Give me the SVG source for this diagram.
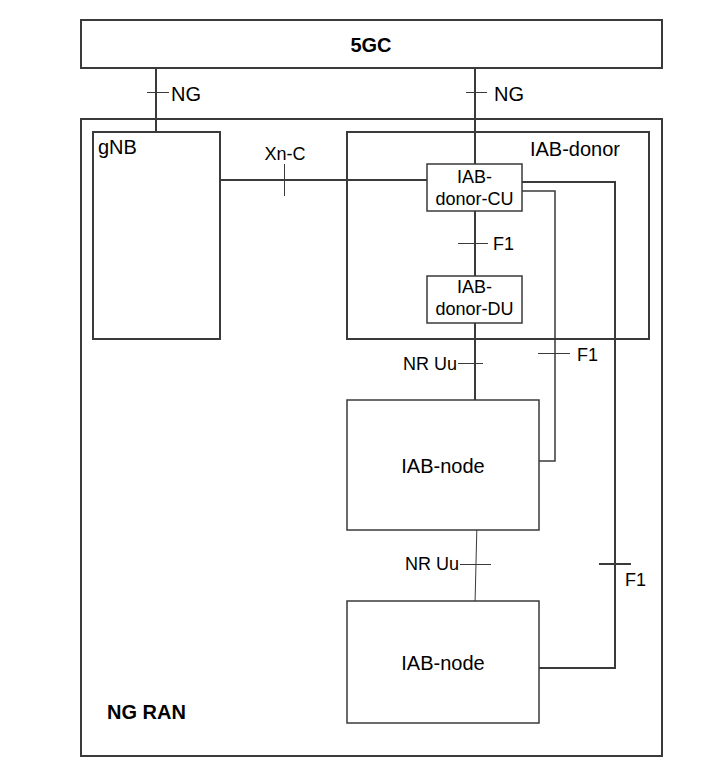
<svg xmlns="http://www.w3.org/2000/svg" width="717" height="778" viewBox="0 0 717 778">
<style>
.box{fill:#fff;stroke:#3a3a3a;stroke-width:2}
.sbox{fill:#fff;stroke:#3a3a3a;stroke-width:1.5}
.ln{fill:none;stroke:#3a3a3a;stroke-width:2}
.tn{fill:none;stroke:#3a3a3a;stroke-width:1.5}
.tk{fill:none;stroke:#3a3a3a;stroke-width:1}
text{font-family:"Liberation Sans",Arial,sans-serif;fill:#000}
.b{font-weight:bold;font-size:20px}
.l{font-size:20px}
.m{font-size:18px}
</style>
<rect width="717" height="778" fill="#fff"/>
<g id="fgc"><rect class="box" x="81" y="20" width="581" height="48"/><text class="b" x="371" y="52" text-anchor="middle">5GC</text></g>
<g id="ngran"><rect class="box" x="81" y="119" width="581" height="637"/><text class="b" x="107" y="719">NG RAN</text></g>
<g id="gnb"><rect class="box" x="93" y="132" width="127" height="207"/><text class="l" x="98" y="154">gNB</text></g>
<g id="iabdonor"><rect class="box" x="347" y="132" width="302" height="207"/><text class="l" x="620" y="156" text-anchor="end">IAB-donor</text></g>
<g id="connectors">
<path class="ln" d="M156 68V132"/>
<path class="tk" d="M147 92.5H169"/>
<path class="ln" d="M475 68V164"/>
<path class="tk" d="M466 92.5H487"/>
<path class="ln" d="M220 180H427"/>
<path class="tk" d="M284.5 164V196"/>
<path class="ln" d="M475 211V276"/>
<path class="tk" d="M458 243.5H488"/>
<path class="ln" d="M475 323V400"/>
<path class="tk" d="M458 363.5H483"/>
<path class="ln" d="M522 182H615V668H539"/>
<path class="tn" d="M522 191H555V461H539"/>
<path class="tk" d="M538 353.5H570"/>
<path class="ln" d="M599 564H631"/>
<path class="tk" d="M477 522L475 604"/>
<path class="tk" d="M460 564.5H491"/>
</g>
<g id="cu"><rect class="sbox" x="427" y="164" width="95" height="47"/><text class="m" x="474.5" y="183" text-anchor="middle">IAB-</text><text class="m" x="474.5" y="205" text-anchor="middle">donor-CU</text></g>
<g id="du"><rect class="sbox" x="427" y="276" width="95" height="47"/><text class="m" x="474.5" y="293" text-anchor="middle">IAB-</text><text class="m" x="474.5" y="315" text-anchor="middle">donor-DU</text></g>
<g id="node1"><rect class="sbox" x="347" y="400" width="192" height="130"/><text class="l" x="443" y="473" text-anchor="middle">IAB-node</text></g>
<g id="node2"><rect class="sbox" x="347" y="601" width="192" height="122"/><text class="l" x="443" y="670" text-anchor="middle">IAB-node</text></g>
<g id="labels">
<text class="l" x="171" y="101">NG</text>
<text class="l" x="494" y="101">NG</text>
<text class="m" x="285" y="160" text-anchor="middle">Xn-C</text>
<text class="m" x="493" y="250">F1</text>
<text class="m" x="457" y="370" text-anchor="end">NR Uu</text>
<text class="m" x="577" y="361">F1</text>
<text class="m" x="459" y="570" text-anchor="end">NR Uu</text>
<text class="m" x="625" y="586">F1</text>
</g>
</svg>
